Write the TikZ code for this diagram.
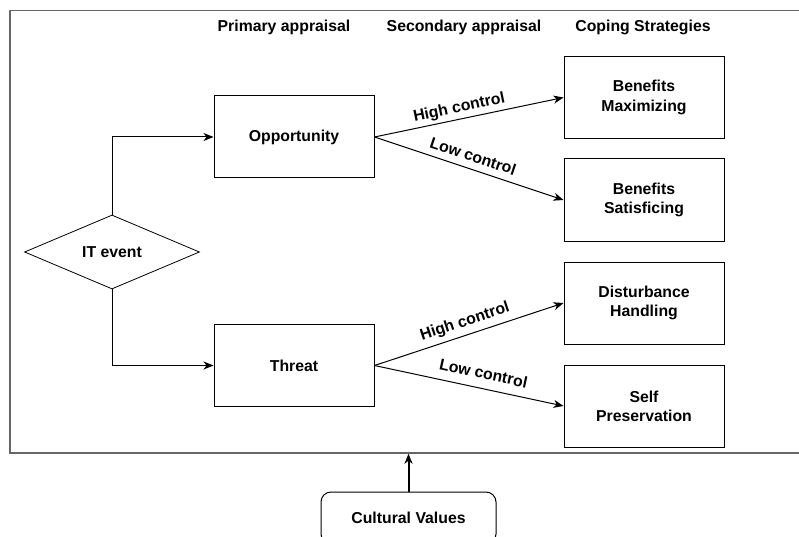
\documentclass[tikz,border=0pt]{standalone}
\usepackage{fontspec}
\setmainfont{Liberation Sans}
\usetikzlibrary{arrows,arrows.meta,shapes.geometric}

\begin{document}
\begin{tikzpicture}[x=1pt,y=-1pt,>={Stealth[length=10pt,width=8pt,inset=3pt]},
  every node/.style={font=\fontsize{15.8}{19.3}\selectfont\bfseries},
  box/.style={draw,line width=1pt,minimum width=160pt,minimum height=82pt,align=center},
  edge lbl/.style={sloped,above,inner sep=3pt}]
\useasboundingbox (0,0) rectangle (799,537);
\clip (0,0) rectangle (799,537);
% рамка
\node (frame) [draw=gray!80!black,line width=1.4pt,minimum width=820pt,minimum height=442.5pt,inner sep=0] at (420,231.75) {};
% заголовки
\node (prim) at (284,27) {Primary appraisal};
\node (sec) at (464,27) {Secondary appraisal};
\node (cop) at (643,27) {Coping Strategies};
% узлы
\node (event) [draw,line width=0.8pt,shape=diamond,aspect=2.36,inner sep=0,minimum width=175pt,minimum height=74pt] at (112,252) {IT event};
\node (opp) [box] at (294,137) {Opportunity};
\node (thr) [box] at (294,365.5) {Threat};
\node (max) [box] at (644,97.5) {Benefits\\Maximizing};
\node (sat) [box] at (644,200) {Benefits\\Satisficing};
\node (dist) [box] at (644,303) {Disturbance\\Handling};
\node (self) [box] at (644,406) {Self\\Preservation};
\node (cult) [draw,line width=1pt,rounded corners=10pt,minimum width=175pt,minimum height=52pt] at (408.5,518) {Cultural Values};
% стрелки
\draw [->,line width=1pt] (event.north) |- (opp.west);
\draw [->,line width=1pt] (event.south) |- (thr.west);
\draw [->,line width=1pt] (opp.east) -- node [edge lbl,pos=0.46] {High control} (max.west);
\draw [->,line width=1pt] (opp.east) -- node [edge lbl,pos=0.5,inner sep=7pt] {Low control} (sat.west);
\draw [->,line width=1pt] (thr.east) -- node [edge lbl,pos=0.5,inner sep=5pt] {High control} (dist.west);
\draw [->,line width=1pt] (thr.east) -- node [edge lbl,pos=0.56,inner sep=9pt] {Low control} (self.west);
\draw [->,line width=2pt] (cult.north) -- (cult.north |- frame.south);
\end{tikzpicture}
\end{document}
